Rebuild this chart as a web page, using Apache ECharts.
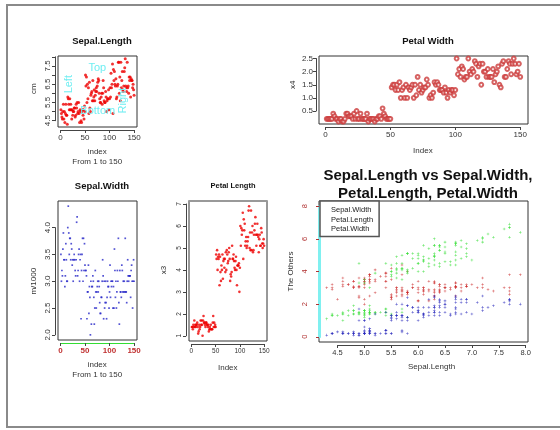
<!DOCTYPE html>
<html>
<head>
<meta charset="utf-8">
<script src="https://cdn.jsdelivr.net/npm/echarts@6/dist/echarts.min.js"></script>
<style>
html,body{margin:0;padding:0;background:#fff}
#chart{width:560px;height:430px}
</style>
</head>
<body>
<div id="chart"></div>
<script>
// iris, rows 1..150
var sepalLength = [5.1,4.9,4.7,4.6,5.0,5.4,4.6,5.0,4.4,4.9,5.4,4.8,4.8,4.3,5.8,5.7,5.4,5.1,5.7,5.1,5.4,5.1,4.6,5.1,4.8,5.0,5.0,5.2,5.2,4.7,4.8,5.4,5.2,5.5,4.9,5.0,5.5,4.9,4.4,5.1,5.0,4.5,4.4,5.0,5.1,4.8,5.1,4.6,5.3,5.0,
  7.0,6.4,6.9,5.5,6.5,5.7,6.3,4.9,6.6,5.2,5.0,5.9,6.0,6.1,5.6,6.7,5.6,5.8,6.2,5.6,5.9,6.1,6.3,6.1,6.4,6.6,6.8,6.7,6.0,5.7,5.5,5.5,5.8,6.0,5.4,6.0,6.7,6.3,5.6,5.5,5.5,6.1,5.8,5.0,5.6,5.7,5.7,6.2,5.1,5.7,
  6.3,5.8,7.1,6.3,6.5,7.6,4.9,7.3,6.7,7.2,6.5,6.4,6.8,5.7,5.8,6.4,6.5,7.7,7.7,6.0,6.9,5.6,7.7,6.3,6.7,7.2,6.2,6.1,6.4,7.2,7.4,7.9,6.4,6.3,6.1,7.7,6.3,6.4,6.0,6.9,6.7,6.9,5.8,6.8,6.7,6.7,6.3,6.5,6.2,5.9];
var sepalWidth = [3.5,3.0,3.2,3.1,3.6,3.9,3.4,3.4,2.9,3.1,3.7,3.4,3.0,3.0,4.0,4.4,3.9,3.5,3.8,3.8,3.4,3.7,3.6,3.3,3.4,3.0,3.4,3.5,3.4,3.2,3.1,3.4,4.1,4.2,3.1,3.2,3.5,3.6,3.0,3.4,3.5,2.3,3.2,3.5,3.8,3.0,3.8,3.2,3.7,3.3,
  3.2,3.2,3.1,2.3,2.8,2.8,3.3,2.4,2.9,2.7,2.0,3.0,2.2,2.9,2.9,3.1,3.0,2.7,2.2,2.5,3.2,2.8,2.5,2.8,2.9,3.0,2.8,3.0,2.9,2.6,2.4,2.4,2.7,2.7,3.0,3.4,3.1,2.3,3.0,2.5,2.6,3.0,2.6,2.3,2.7,3.0,2.9,2.9,2.5,2.8,
  3.3,2.7,3.0,2.9,3.0,3.0,2.5,2.9,2.5,3.6,3.2,2.7,3.0,2.5,2.8,3.2,3.0,3.8,2.6,2.2,3.2,2.8,2.8,2.7,3.3,3.2,2.8,3.0,2.8,3.0,2.8,3.8,2.8,2.8,2.6,3.0,3.4,3.1,3.0,3.1,3.1,3.1,2.7,3.2,3.3,3.0,2.5,3.0,3.4,3.0];
var petalLength = [1.4,1.4,1.3,1.5,1.4,1.7,1.4,1.5,1.4,1.5,1.5,1.6,1.4,1.1,1.2,1.5,1.3,1.4,1.7,1.5,1.7,1.5,1.0,1.7,1.9,1.6,1.6,1.5,1.4,1.6,1.6,1.5,1.5,1.4,1.5,1.2,1.3,1.4,1.3,1.5,1.3,1.3,1.3,1.6,1.9,1.4,1.6,1.4,1.5,1.4,
  4.7,4.5,4.9,4.0,4.6,4.5,4.7,3.3,4.6,3.9,3.5,4.2,4.0,4.7,3.6,4.4,4.5,4.1,4.5,3.9,4.8,4.0,4.9,4.7,4.3,4.4,4.8,5.0,4.5,3.5,3.8,3.7,3.9,5.1,4.5,4.5,4.7,4.4,4.1,4.0,4.4,4.6,4.0,3.3,4.2,4.2,4.2,4.3,3.0,4.1,
  6.0,5.1,5.9,5.6,5.8,6.6,4.5,6.3,5.8,6.1,5.1,5.3,5.5,5.0,5.1,5.3,5.5,6.7,6.9,5.0,5.7,4.9,6.7,4.9,5.7,6.0,4.8,4.9,5.6,5.8,6.1,6.4,5.6,5.1,5.6,6.1,5.6,5.5,4.8,5.4,5.6,5.1,5.1,5.9,5.7,5.2,5.0,5.2,5.4,5.1];
var petalWidth = [0.2,0.2,0.2,0.2,0.2,0.4,0.3,0.2,0.2,0.1,0.2,0.2,0.1,0.1,0.2,0.4,0.4,0.3,0.3,0.3,0.2,0.4,0.2,0.5,0.2,0.2,0.4,0.2,0.2,0.2,0.2,0.4,0.1,0.2,0.2,0.2,0.2,0.1,0.2,0.2,0.3,0.3,0.2,0.6,0.4,0.3,0.2,0.2,0.2,0.2,
  1.4,1.5,1.5,1.3,1.5,1.3,1.6,1.0,1.3,1.4,1.0,1.5,1.0,1.4,1.3,1.4,1.5,1.0,1.5,1.1,1.8,1.3,1.5,1.2,1.3,1.4,1.4,1.7,1.5,1.0,1.1,1.0,1.2,1.6,1.5,1.6,1.5,1.3,1.3,1.3,1.2,1.4,1.2,1.0,1.3,1.2,1.3,1.3,1.1,1.3,
  2.5,1.9,2.1,1.8,2.2,2.1,1.7,1.8,1.8,2.5,2.0,1.9,2.1,2.0,2.4,2.3,1.8,2.2,2.3,1.5,2.3,2.0,2.0,1.8,2.1,1.8,1.8,1.8,2.1,1.6,1.9,2.0,2.2,1.5,1.4,2.3,2.4,1.8,1.8,2.1,2.4,2.3,1.9,2.3,2.5,2.3,1.9,2.0,2.3,1.8];

var otherNames = ['Sepal.Width', 'Petal.Length', 'Petal.Width'];
// cyan notes on the first panel: [text, index, Sepal.Length, rotation]
var notes = [['Top', 75, 7.4, 0], ['Bottom', 76, 5.05, 0], ['Left', 17, 6.5, 90], ['Right', 127, 5.6, 90]];

var FONT = 'Liberation Sans, Arial, sans-serif';
var grids = [], xAxes = [], yAxes = [], series = [];

function vsIndex(arr) {
  var out = [];
  for (var i = 0; i < arr.length; i++) out.push([i + 1, arr[i]]);
  return out;
}
function vsSepal(arr) {
  var out = [];
  for (var i = 0; i < arr.length; i++) out.push([sepalLength[i], arr[i]]);
  return out;
}

// p.box = [left, top, right, bottom] of the plot frame; xr/yr = usr range; xt/yt = [first, last, step]
function addPanel(p) {
  var W = p.box[2] - p.box[0], H = p.box[3] - p.box[1];
  var g = grids.length;
  grids.push({left: p.box[0], top: p.box[1], width: W, height: H, show: true,
    borderColor: '#333', borderWidth: 1, backgroundColor: 'transparent'});
  xAxes.push({gridIndex: g, type: 'value', min: p.xr[0], max: p.xr[1], position: 'top',
    show: !!p.topLine, axisLine: {show: true, onZero: false, lineStyle: {color: '#999', width: 2}},
    axisTick: {show: false}, axisLabel: {show: false}, splitLine: {show: false}});
  yAxes.push({gridIndex: g, type: 'value', min: p.yr[0], max: p.yr[1], show: false, splitLine: {show: false}});

  // second grid spans only the tick range, so the axis line runs first tick to last tick
  var sx = W / (p.xr[1] - p.xr[0]), sy = H / (p.yr[1] - p.yr[0]);
  var aL = p.box[0] + (p.xt[0] - p.xr[0]) * sx, aW = (p.xt[1] - p.xt[0]) * sx;
  var aT = p.box[1] + (p.yr[1] - p.yt[1]) * sy, aH = (p.yt[1] - p.yt[0]) * sy;
  grids.push({left: aL, top: aT, width: aW, height: aH});
  var fs = p.fs || 8;
  xAxes.push({gridIndex: g + 1, type: 'value', min: p.xt[0], max: p.xt[1], interval: p.xt[2],
    position: 'bottom', offset: p.box[3] - (aT + aH) + 3,
    axisLine: {show: true, onZero: false, lineStyle: {color: p.xLineColor || '#444', width: 1}},
    axisTick: {show: true, length: 3, lineStyle: {color: '#444'}},
    axisLabel: {fontSize: fs, fontFamily: FONT, color: p.xLabelColor || '#333', margin: 4,
      fontWeight: p.xLabelBold ? 'bold' : 'normal', formatter: p.xFmt, showMinLabel: true, showMaxLabel: true},
    splitLine: {show: false},
    name: p.xName, nameLocation: 'middle', nameGap: p.xNameGap,
    nameTextStyle: {fontSize: 8, fontFamily: FONT, color: '#333', lineHeight: 10}});
  yAxes.push({gridIndex: g + 1, type: 'value', min: p.yt[0], max: p.yt[1], interval: p.yt[2],
    position: 'left', offset: aL - p.box[0] + (p.yGap === undefined ? 3 : p.yGap),
    axisLine: {show: true, onZero: false, lineStyle: {color: p.yLineColor || '#444', width: p.yLineWidth || 1}},
    axisTick: {show: true, length: 3, lineStyle: {color: p.yTickColor || '#444'}},
    axisLabel: {fontSize: fs, fontFamily: FONT, color: p.yLabelColor || '#333', margin: p.yMargin || 3,
      rotate: p.flatY ? 0 : 90, formatter: p.yFmt, showMinLabel: true, showMaxLabel: true},
    splitLine: {show: false},
    name: p.yName, nameLocation: 'middle', nameGap: p.yNameGap,
    nameTextStyle: {fontSize: 8, fontFamily: FONT, color: '#333'}});
  return g;
}

function one(v) { return v.toFixed(1); }

var p1 = addPanel({box: [58, 56, 137, 127], xr: [-4.96, 155.96], yr: [4.156, 8.044],
  xt: [0, 150, 50], yt: [4.5, 8.0, 0.5],
  yFmt: function (v) { return Math.round(v * 10) % 10 === 5 ? v.toFixed(1) : ''; },
  xName: 'index\nFrom 1 to 150', xNameGap: 17, yName: 'cm', yNameGap: 17});
var p2 = addPanel({box: [319, 56, 528, 124], xr: [-4.96, 155.96], yr: [0.004, 2.596],
  xt: [0, 150, 50], yt: [0.5, 2.5, 0.5], flatY: true, yFmt: one,
  xName: 'Index', xNameGap: 19, yName: 'x4', yNameGap: 19});
var p3 = addPanel({box: [58, 201, 137, 340], xr: [-4.96, 155.96], yr: [1.904, 4.496],
  xt: [0, 150, 50], yt: [2.0, 4.0, 0.5], yFmt: one,
  xLineColor: '#33dd33', xLabelColor: '#c03030', xLabelBold: true,
  xName: 'index\nFrom 1 to 150', xNameGap: 17, yName: 'm/1000', yNameGap: 17});
var p4 = addPanel({box: [189, 201, 267, 341], xr: [-4.96, 155.96], yr: [0.764, 7.136],
  xt: [0, 150, 50], yt: [1, 7, 1], fs: 6.5, topLine: true,
  xName: 'Index', xNameGap: 19, yName: 'x3', yNameGap: 18});
var p5 = addPanel({box: [319, 201, 528, 342], xr: [4.156, 8.044], yr: [-0.32, 8.32],
  xt: [4.5, 8.0, 0.5], yt: [0, 8, 2], fs: 7.5, xFmt: one,
  yLineColor: '#80f0f0', yLineWidth: 3, yGap: 0, yTickColor: '#b03030', yLabelColor: '#b03030', yMargin: 10,
  xName: 'Sepal.Length', xNameGap: 17, yName: 'The Others', yNameGap: 24});

series.push({type: 'scatter', xAxisIndex: p1, yAxisIndex: p1, data: vsIndex(sepalLength),
  symbol: 'circle', symbolSize: 3, itemStyle: {color: '#ee0000'}, silent: true});
series.push({type: 'scatter', xAxisIndex: p2, yAxisIndex: p2, data: vsIndex(petalWidth),
  symbol: 'emptyCircle', symbolSize: 3.8, itemStyle: {color: '#cc3b3b', borderWidth: 0.8}, silent: true});
series.push({type: 'scatter', xAxisIndex: p3, yAxisIndex: p3, data: vsIndex(sepalWidth),
  symbol: 'rect', symbolSize: 1.7, itemStyle: {color: '#2828c8'}, silent: true});
series.push({type: 'scatter', xAxisIndex: p4, yAxisIndex: p4, data: vsIndex(petalLength),
  symbol: 'circle', symbolSize: 2.6, itemStyle: {color: '#ee0000'}, silent: true});

var plus = 'path://M4,0h2v4h4v2h-4v4h-2v-4h-4v-2h4z';
var others = [sepalWidth, petalLength, petalWidth];
var otherColors = ['#cc2a2a', '#33dd33', '#2626bb'];
for (var k = 0; k < 3; k++) {
  series.push({type: 'scatter', name: otherNames[k], xAxisIndex: p5, yAxisIndex: p5,
    data: vsSepal(others[k]), symbol: plus, symbolSize: 2.6,
    itemStyle: {color: otherColors[k]}, silent: true});
}

var titleStyle = {fontFamily: FONT, fontWeight: 'bold', color: '#111'};
var chart = echarts.init(document.getElementById('chart'), null, {renderer: 'canvas'});
chart.setOption({
  animation: false,
  backgroundColor: '#fff',
  title: [
    {text: 'Sepal.Length', left: 97, top: 31, textAlign: 'center', textStyle: Object.assign({fontSize: 9.5}, titleStyle)},
    {text: 'Petal Width', left: 423, top: 31, textAlign: 'center', textStyle: Object.assign({fontSize: 9.5}, titleStyle)},
    {text: 'Sepal.Width', left: 97, top: 176, textAlign: 'center', textStyle: Object.assign({fontSize: 9.5}, titleStyle)},
    {text: 'Petal Length', left: 228, top: 177, textAlign: 'center', textStyle: Object.assign({fontSize: 7.5}, titleStyle)},
    {text: 'Sepal.Length vs Sepal.Width,\nPetal.Length, Petal.Width', left: 423, top: 162, textAlign: 'center',
      textStyle: Object.assign({fontSize: 15, lineHeight: 18}, titleStyle)}
  ],
  legend: {data: otherNames, left: 320, top: 201, orient: 'vertical',
    itemWidth: 0, itemHeight: 7, itemGap: 1, padding: [5, 6, 3, 6],
    itemStyle: {opacity: 0}, selectedMode: false,
    backgroundColor: '#fff', borderColor: '#555', borderWidth: 1.5, borderRadius: 0,
    textStyle: {fontSize: 7.5, fontFamily: FONT, color: '#222', lineHeight: 8.5}},
  grid: grids,
  xAxis: xAxes,
  yAxis: yAxes,
  series: series
});

// outer frame plus the cyan text() notes, placed through the first panel's own scales
var extras = [{type: 'rect', id: 'frame', shape: {x: 7, y: 5, width: 620, height: 422}, silent: true,
  style: {fill: 'none', stroke: '#8a8a8a', lineWidth: 2}}];
notes.forEach(function (n, i) {
  var pt = chart.convertToPixel({gridIndex: p1}, [n[1], n[2]]);
  extras.push({type: 'text', id: 'note' + i, x: pt[0], y: pt[1], rotation: n[3] * Math.PI / 180, z: 50, silent: true,
    style: {text: n[0], fill: '#70eef2', font: '11px ' + FONT, align: 'center', verticalAlign: 'middle'}});
});
chart.setOption({graphic: extras});
</script>
</body>
</html>
